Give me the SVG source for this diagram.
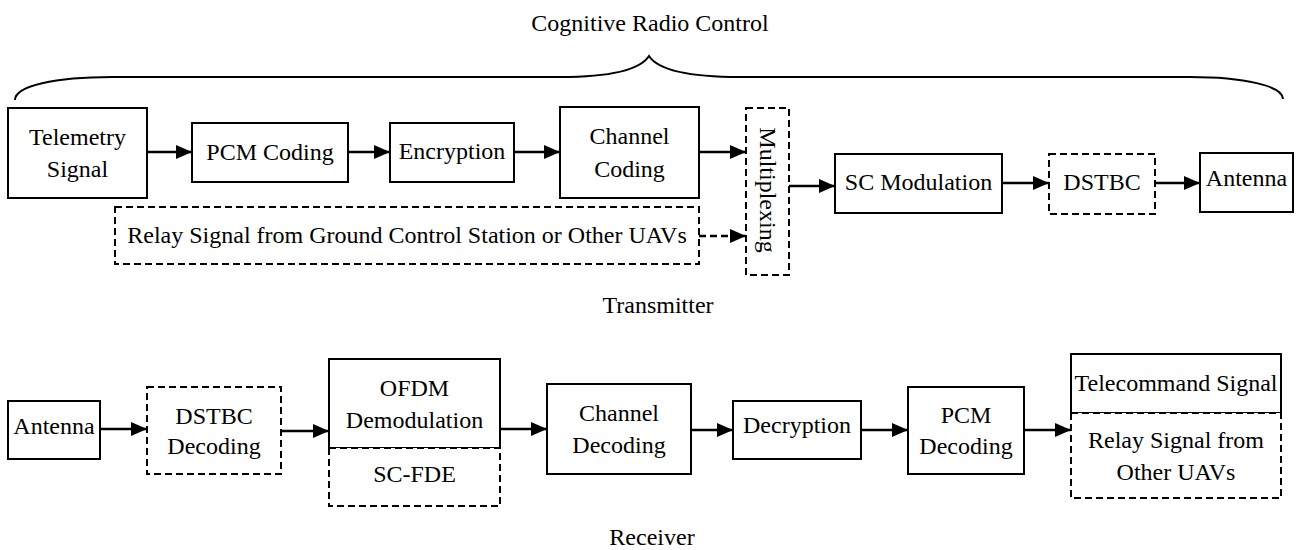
<svg xmlns="http://www.w3.org/2000/svg" width="1298" height="550" viewBox="0 0 1298 550" font-family="'Liberation Serif', 'Times New Roman', serif">
<style>
  text { font-family: "Liberation Serif", "Times New Roman", serif; font-size: 24px; fill: #000; }
  .c { text-anchor: middle; }
  .box { fill: #fff; stroke: #000; stroke-width: 2; }
  .dash { fill: #fff; stroke: #000; stroke-width: 2; stroke-dasharray: 7 4; }
  .conn { fill: none; stroke: #000; stroke-width: 2.5; marker-end: url(#arr); }
  .conn.d { stroke-dasharray: 7 4; }
  .brace { fill: none; stroke: #000; stroke-width: 2; }
</style>
<defs>
  <marker id="arr" markerUnits="userSpaceOnUse" markerWidth="17" markerHeight="14" refX="16" refY="7" orient="auto">
    <path d="M0,0 L16,7 L0,14 Z" fill="#000"/>
  </marker>
</defs>
<rect width="1298" height="550" fill="#fff"/>

<g id="title">
  <text class="c" x="650" y="31">Cognitive Radio Control</text>
  <path class="brace" d="M15,100 C15,86 55,77 112,77 L560,77 C612,77 640,70 649,56 C658,70 688,77 740,77 L1190,77 C1244,77 1283,86 1283,99"/>
</g>

<g id="connectors">
  <line class="conn" x1="147" y1="152" x2="192" y2="152"/>
  <line class="conn" x1="348" y1="152" x2="390" y2="152"/>
  <line class="conn" x1="514" y1="152" x2="560" y2="152"/>
  <line class="conn" x1="699" y1="152" x2="746" y2="152"/>
  <line class="conn d" x1="699" y1="236" x2="746" y2="236"/>
  <line class="conn" x1="789" y1="186" x2="835" y2="186"/>
  <line class="conn" x1="1002" y1="183" x2="1049" y2="183"/>
  <line class="conn" x1="1155" y1="183" x2="1200" y2="183"/>
  <line class="conn" x1="100" y1="429" x2="147" y2="429"/>
  <line class="conn" x1="281" y1="431" x2="329" y2="431"/>
  <line class="conn" x1="500" y1="429" x2="547" y2="429"/>
  <line class="conn" x1="691" y1="430" x2="733" y2="430"/>
  <line class="conn" x1="861" y1="430" x2="908" y2="430"/>
  <line class="conn" x1="1024" y1="430" x2="1071" y2="430"/>
</g>

<g id="telemetry">
  <rect class="box" x="8" y="108" width="139" height="90"/>
  <text class="c" x="77.5" y="145">Telemetry</text>
  <text class="c" x="77.5" y="177">Signal</text>
</g>
<g id="pcm-coding">
  <rect class="box" x="192" y="123" width="156" height="59"/>
  <text class="c" x="270" y="160">PCM Coding</text>
</g>
<g id="encryption">
  <rect class="box" x="390" y="123" width="124" height="59"/>
  <text class="c" x="452" y="159">Encryption</text>
</g>
<g id="channel-coding">
  <rect class="box" x="560" y="107" width="139" height="91"/>
  <text class="c" x="629.5" y="144">Channel</text>
  <text class="c" x="629.5" y="177">Coding</text>
</g>
<g id="relay-tx">
  <rect class="dash" x="115" y="207" width="584" height="57"/>
  <text class="c" x="407" y="243">Relay Signal from Ground Control Station or Other UAVs</text>
</g>
<g id="multiplexing">
  <rect class="dash" x="746" y="108" width="43" height="167"/>
  <text class="c" transform="translate(768,190) rotate(90)" x="0" y="0" dominant-baseline="central">Multiplexing</text>
</g>
<g id="sc-modulation">
  <rect class="box" x="835" y="154" width="167" height="59"/>
  <text class="c" x="918.5" y="190">SC Modulation</text>
</g>
<g id="dstbc">
  <rect class="dash" x="1049" y="154" width="106" height="60"/>
  <text class="c" x="1102" y="190">DSTBC</text>
</g>
<g id="antenna-tx">
  <rect class="box" x="1200" y="153" width="93" height="59"/>
  <text class="c" x="1246.5" y="186">Antenna</text>
</g>

<text id="transmitter-label" class="c" x="658" y="313">Transmitter</text>

<g id="antenna-rx">
  <rect class="box" x="8" y="401" width="92" height="58"/>
  <text class="c" x="54" y="434">Antenna</text>
</g>
<g id="dstbc-decoding">
  <rect class="dash" x="147" y="387" width="134" height="87"/>
  <text class="c" x="214" y="424">DSTBC</text>
  <text class="c" x="214" y="454">Decoding</text>
</g>
<g id="ofdm">
  <rect class="box" x="329" y="359" width="171" height="89"/>
  <text class="c" x="414.5" y="396">OFDM</text>
  <text class="c" x="414.5" y="428">Demodulation</text>
</g>
<g id="sc-fde">
  <rect class="dash" x="329" y="448" width="171" height="58"/>
  <text class="c" x="414.5" y="482">SC-FDE</text>
</g>
<g id="channel-decoding">
  <rect class="box" x="547" y="384" width="144" height="90"/>
  <text class="c" x="619" y="421">Channel</text>
  <text class="c" x="619" y="453">Decoding</text>
</g>
<g id="decryption">
  <rect class="box" x="733" y="401" width="128" height="58"/>
  <text class="c" x="797" y="433">Decryption</text>
</g>
<g id="pcm-decoding">
  <rect class="box" x="908" y="387" width="116" height="87"/>
  <text class="c" x="966" y="423">PCM</text>
  <text class="c" x="966" y="454">Decoding</text>
</g>
<g id="telecommand">
  <rect class="box" x="1071" y="354" width="210" height="59"/>
  <text class="c" x="1176" y="391">Telecommand Signal</text>
</g>
<g id="relay-rx">
  <rect class="dash" x="1071" y="413" width="210" height="85"/>
  <text class="c" x="1176" y="448">Relay Signal from</text>
  <text class="c" x="1176" y="480">Other UAVs</text>
</g>

<text id="receiver-label" class="c" x="652" y="545">Receiver</text>
</svg>
